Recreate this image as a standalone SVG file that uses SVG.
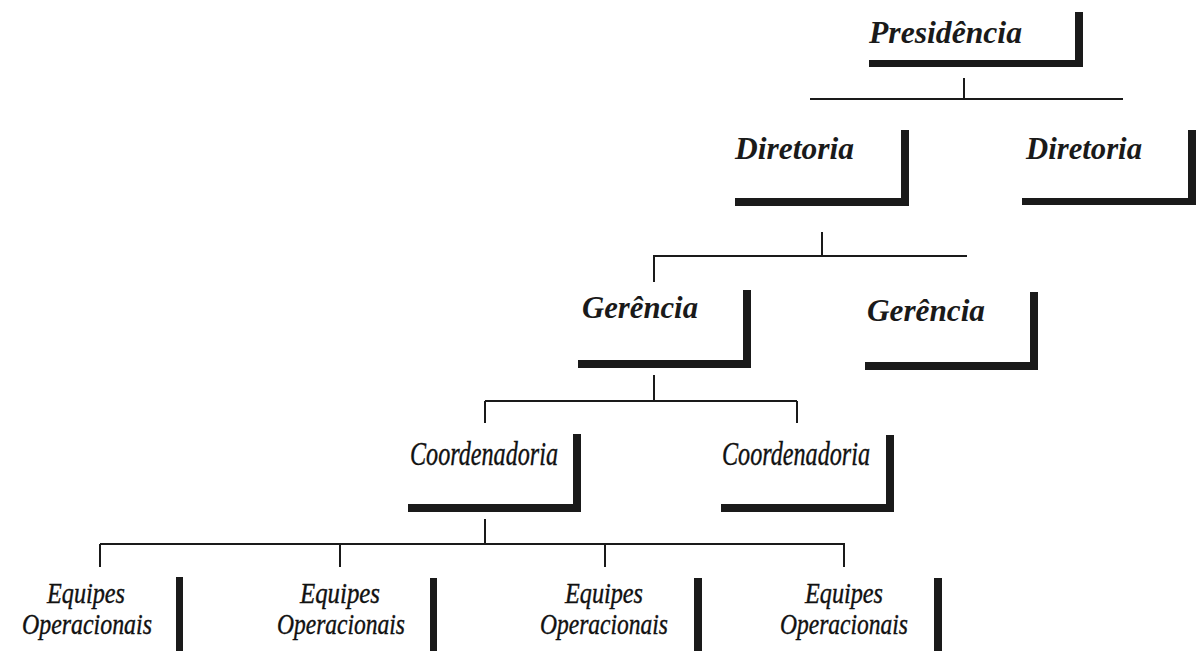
<svg xmlns="http://www.w3.org/2000/svg" width="1198" height="651" viewBox="0 0 1198 651">
<style>
.bar{fill:#1a1a1a}
.ln{stroke:#1a1a1a;stroke-width:2;fill:none}
.t1{font-family:"Liberation Serif",serif;font-style:italic;font-weight:bold;font-size:31px;fill:#1a1a1a}
.t2{font-family:"Liberation Serif",serif;font-style:italic;font-size:33px;fill:#111111;stroke:#111111;stroke-width:0.4}
.t3{font-family:"Liberation Serif",serif;font-style:italic;font-size:30px;fill:#111111;stroke:#111111;stroke-width:0.4;text-anchor:middle}
</style>
<rect width="1198" height="651" fill="#ffffff"/>
<g id="connectors">
<path class="ln" d="M964 78V99M810 99H1123"/>
<path class="ln" d="M822 232V256M653 256H967M654 256V282"/>
<path class="ln" d="M654 375V401M485 401H797M485 401V423M797 401V423"/>
<path class="ln" d="M485 519V544M100 544H845M100 544V567M340 544V567M605 544V567M844 544V567"/>
</g>
<g id="presidencia">
<text class="t1" x="869" y="43" textLength="153" lengthAdjust="spacingAndGlyphs">Presidência</text>
<rect class="bar" x="1075" y="12" width="8" height="55"/>
<rect class="bar" x="869" y="60" width="214" height="7"/>
</g>
<g id="diretoria1">
<text class="t1" x="735" y="159" textLength="119" lengthAdjust="spacingAndGlyphs">Diretoria</text>
<rect class="bar" x="901" y="130" width="8" height="76"/>
<rect class="bar" x="735" y="198" width="174" height="8"/>
</g>
<g id="diretoria2">
<text class="t1" x="1026" y="159" textLength="116" lengthAdjust="spacingAndGlyphs">Diretoria</text>
<rect class="bar" x="1188" y="130" width="8" height="75"/>
<rect class="bar" x="1022" y="198" width="174" height="7"/>
</g>
<g id="gerencia1">
<text class="t1" x="582" y="318" textLength="116" lengthAdjust="spacingAndGlyphs">Gerência</text>
<rect class="bar" x="743" y="290" width="8" height="78"/>
<rect class="bar" x="578" y="360" width="173" height="8"/>
</g>
<g id="gerencia2">
<text class="t1" x="867" y="321" textLength="118" lengthAdjust="spacingAndGlyphs">Gerência</text>
<rect class="bar" x="1030" y="292" width="8" height="78"/>
<rect class="bar" x="865" y="362" width="173" height="8"/>
</g>
<g id="coordenadoria1">
<text class="t2" x="410" y="465" textLength="148" lengthAdjust="spacingAndGlyphs">Coordenadoria</text>
<rect class="bar" x="573" y="434" width="8" height="78"/>
<rect class="bar" x="408" y="504" width="173" height="8"/>
</g>
<g id="coordenadoria2">
<text class="t2" x="722" y="465" textLength="148" lengthAdjust="spacingAndGlyphs">Coordenadoria</text>
<rect class="bar" x="886" y="435" width="8" height="77"/>
<rect class="bar" x="721" y="504" width="173" height="8"/>
</g>
<g id="equipes1">
<text class="t3" x="86" y="603" textLength="78" lengthAdjust="spacingAndGlyphs">Equipes</text>
<text class="t3" x="87" y="634" textLength="130" lengthAdjust="spacingAndGlyphs">Operacionais</text>
<rect class="bar" x="176" y="577" width="7" height="74"/>
</g>
<g id="equipes2">
<text class="t3" x="340" y="603" textLength="80" lengthAdjust="spacingAndGlyphs">Equipes</text>
<text class="t3" x="341" y="634" textLength="128" lengthAdjust="spacingAndGlyphs">Operacionais</text>
<rect class="bar" x="430" y="578" width="7" height="73"/>
</g>
<g id="equipes3">
<text class="t3" x="604" y="603" textLength="78" lengthAdjust="spacingAndGlyphs">Equipes</text>
<text class="t3" x="604" y="634" textLength="128" lengthAdjust="spacingAndGlyphs">Operacionais</text>
<rect class="bar" x="694" y="578" width="8" height="73"/>
</g>
<g id="equipes4">
<text class="t3" x="844" y="603" textLength="78" lengthAdjust="spacingAndGlyphs">Equipes</text>
<text class="t3" x="844" y="634" textLength="128" lengthAdjust="spacingAndGlyphs">Operacionais</text>
<rect class="bar" x="934" y="578" width="8" height="73"/>
</g>
</svg>
